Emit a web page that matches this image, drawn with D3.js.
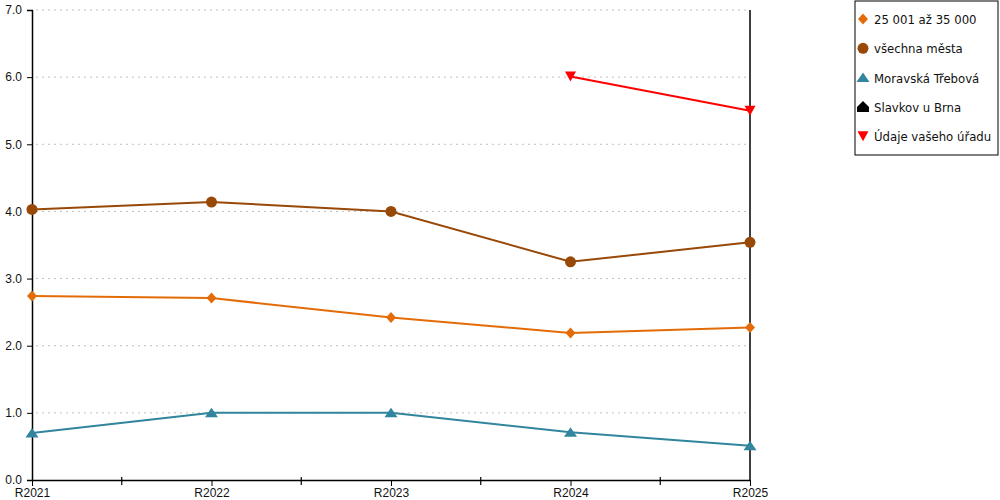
<!DOCTYPE html>
<html>
<head>
<meta charset="utf-8">
<script src="https://cdn.jsdelivr.net/npm/d3@7"></script>
<style>
  body { margin: 0; background: #fff; }
  svg { font-family: "DejaVu Sans Condensed", "DejaVu Sans", sans-serif; font-stretch: condensed; }
</style>
</head>
<body>
<svg id="chart" width="1000" height="500"></svg>
<script>
// data
const years = ["R2021", "R2022", "R2023", "R2024", "R2025"];
const yTicks = [0, 1, 2, 3, 4, 5, 6, 7];

const group25to35 = [2.74, 2.71, 2.42, 2.19, 2.27];
const allCities = [4.03, 4.14, 4.00, 3.25, 3.54];
const moravskaTrebova = [0.70, 1.00, 1.00, 0.71, 0.51];
const slavkov = [null, null, null, null, null];
const yourOffice = [null, null, null, 6.01, 5.50];

const series = [
  { name: "25 001 až 35 000", values: group25to35, color: "#e36c09", symbol: "diamond" },
  { name: "všechna města", values: allCities, color: "#984807", symbol: "circle" },
  { name: "Moravská Třebová", values: moravskaTrebova, color: "#31859c", symbol: "triangle" },
  { name: "Slavkov u Brna", values: slavkov, color: "#000000", symbol: "house" },
  { name: "Údaje vašeho úřadu", values: yourOffice, color: "#ff0000", symbol: "down" }
];

const svg = d3.select("#chart");
const plotLeft = 32, plotRight = 750, plotTop = 10, plotBottom = 480;

const x = d3.scalePoint().domain(years).range([plotLeft, plotRight]);
const y = d3.scaleLinear().domain([0, 7]).range([plotBottom, plotTop]);

// marker shapes
function markerPath(sym) {
  if (sym === "diamond") return "M0,-5.5L5,0L0,5.5L-5,0Z";
  if (sym === "circle") return d3.symbol(d3.symbolCircle, 95)();
  if (sym === "triangle") return "M0,-5L6.5,4.5L-6.5,4.5Z";
  if (sym === "down") return "M-5.5,-5L5.5,-5L0,5Z";
  if (sym === "house") return "M0,-6L6,0L6,5L-6,5L-6,0Z";
}

// grid
svg.append("g")
  .selectAll("line")
  .data(yTicks.filter(d => d > 0))
  .join("line")
  .attr("x1", plotLeft + 4)
  .attr("x2", plotRight)
  .attr("y1", d => y(d))
  .attr("y2", d => y(d))
  .attr("stroke", "#c0c0c0")
  .attr("stroke-dasharray", "2,4");

// y axis
const yAxis = svg.append("g")
  .attr("transform", `translate(${plotLeft},0)`)
  .call(d3.axisLeft(y).tickValues(yTicks).tickFormat(d3.format(".1f")).tickSize(5).tickPadding(5));
yAxis.select(".domain").attr("stroke", "#000").attr("stroke-width", 1.5);
yAxis.selectAll("text").style("font-size", "12px").attr("fill", "#111");

// right edge line
svg.append("line")
  .attr("x1", plotRight).attr("x2", plotRight)
  .attr("y1", plotTop).attr("y2", plotBottom)
  .attr("stroke", "#000").attr("stroke-width", 1.5);

// x axis
const xAxis = svg.append("g")
  .attr("transform", `translate(0,${plotBottom})`)
  .call(d3.axisBottom(x).tickSize(6).tickPadding(2).tickSizeOuter(0));
xAxis.select(".domain").attr("stroke", "#000").attr("stroke-width", 1.5);
xAxis.selectAll("text").style("font-size", "12px").attr("fill", "#111");

// minor ticks between categories
const mids = years.slice(1).map((d, i) => (x(years[i]) + x(d)) / 2);
svg.append("g")
  .selectAll("line")
  .data(mids)
  .join("line")
  .attr("x1", d => d).attr("x2", d => d)
  .attr("y1", plotBottom - 3).attr("y2", plotBottom + 5)
  .attr("stroke", "#000").attr("stroke-width", 1.2);

// lines and markers
const line = d3.line()
  .defined(d => d != null)
  .x((d, i) => x(years[i]))
  .y(d => y(d));

series.forEach(s => {
  svg.append("path")
    .datum(s.values)
    .attr("fill", "none")
    .attr("stroke", s.color)
    .attr("stroke-width", 2)
    .attr("d", line);

  svg.append("g")
    .selectAll("path")
    .data(s.values.map((v, i) => ({ v, i })).filter(d => d.v != null))
    .join("path")
    .attr("transform", d => `translate(${x(years[d.i])},${y(d.v)})`)
    .attr("d", markerPath(s.symbol))
    .attr("fill", s.color);
});

// legend
const legend = svg.append("g").attr("transform", "translate(855,1)");
legend.append("rect")
  .attr("width", 143).attr("height", 154)
  .attr("fill", "#fff").attr("stroke", "#000").attr("stroke-width", 1);

const items = legend.selectAll("g.item")
  .data(series)
  .join("g")
  .attr("class", "item")
  .attr("transform", (d, i) => `translate(8,${18 + i * 29.3})`);

items.append("path")
  .attr("d", d => markerPath(d.symbol))
  .attr("fill", d => d.color);

items.append("text")
  .attr("x", 11)
  .attr("y", 5)
  .style("font-size", "13px")
  .attr("fill", "#111")
  .text(d => d.name);
</script>
</body>
</html>
